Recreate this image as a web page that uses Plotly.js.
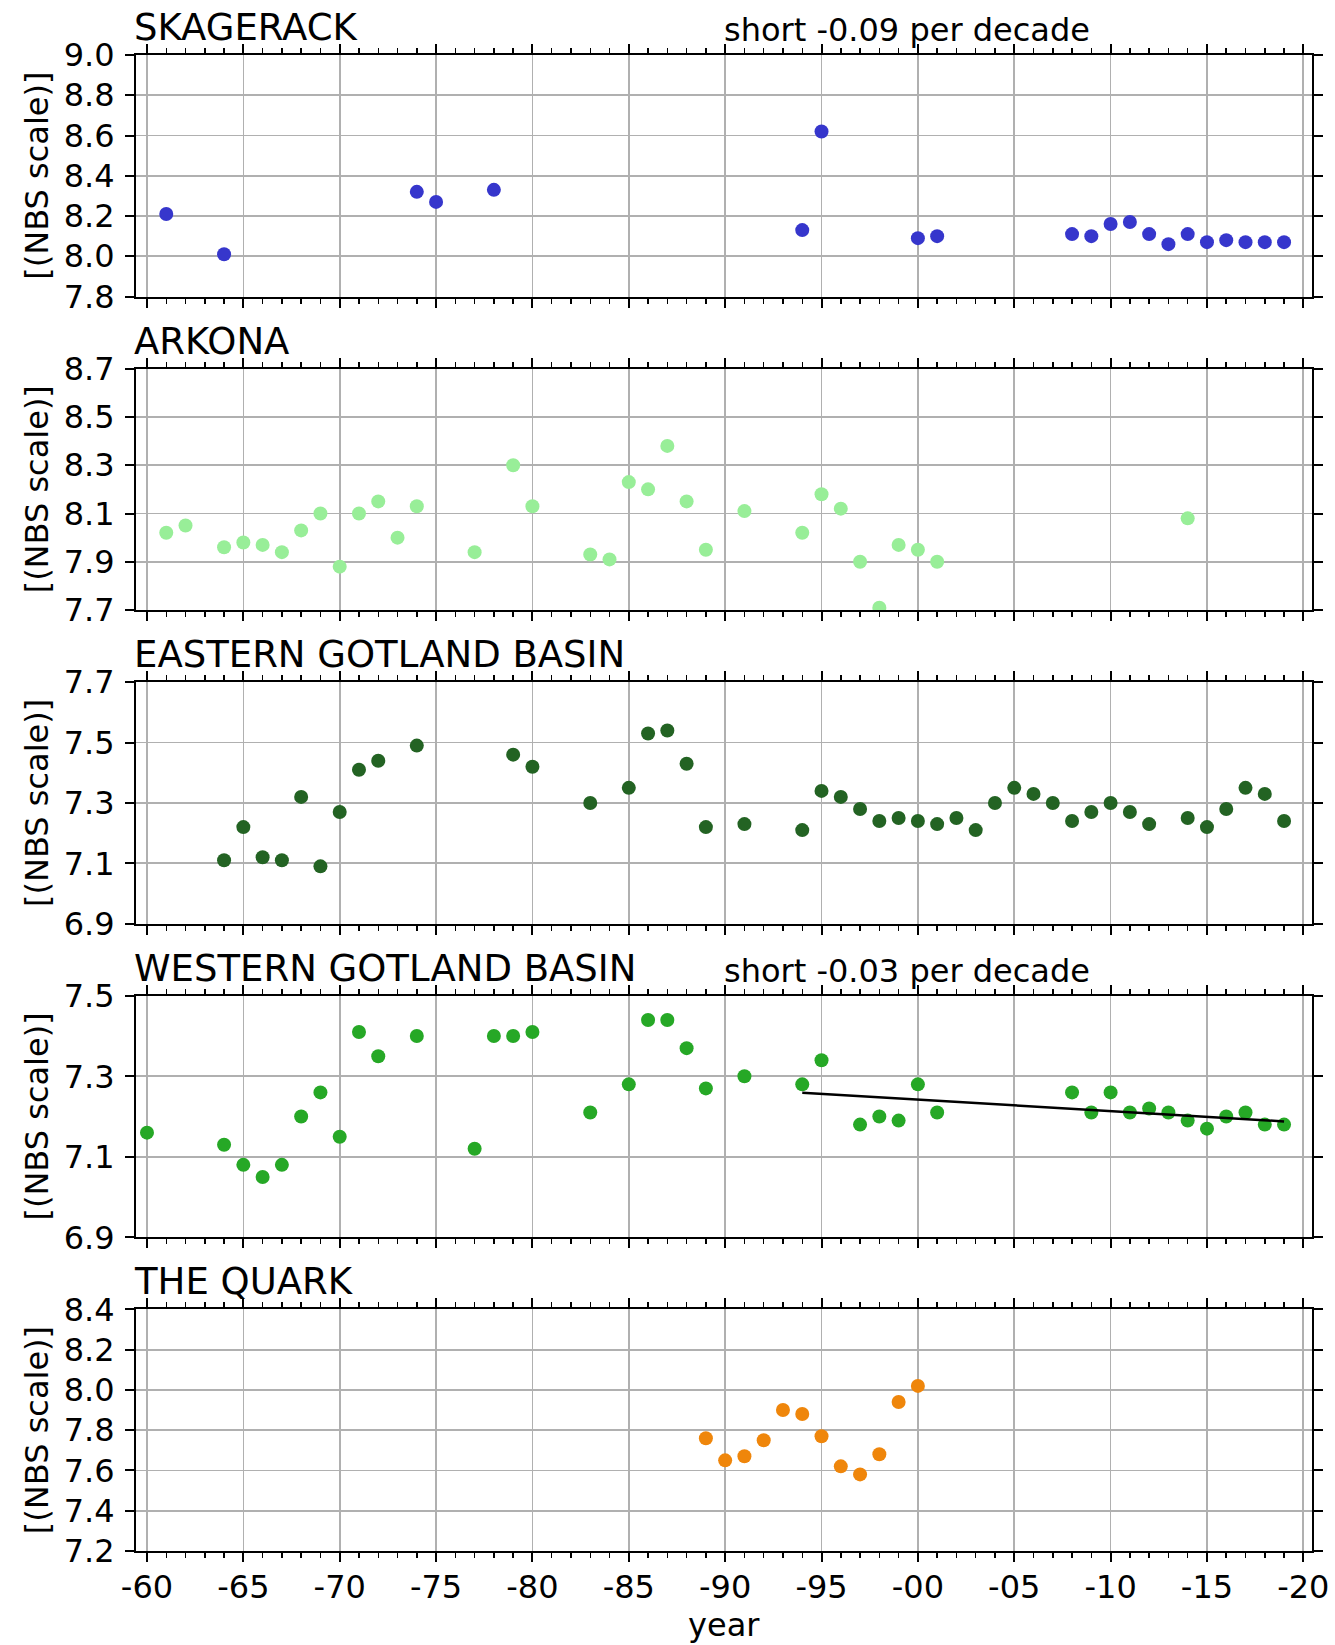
<!DOCTYPE html>
<html>
<head>
<meta charset="utf-8">
<script src="https://cdn.plot.ly/plotly-3.0.1.min.js"></script>
<style>html,body{margin:0;padding:0;background:#fff;}#chart{width:1335px;height:1645px;}</style>
</head>
<body>
<div id="chart"></div>
<script>
// ---- data ----
const panelTitles = ["SKAGERACK", "ARKONA", "EASTERN GOTLAND BASIN", "WESTERN GOTLAND BASIN", "THE QUARK"];
const trendTexts = ["short -0.09 per decade", "", "", "short -0.03 per decade", ""];

const skagYears = [1961,1964,1974,1975,1978,1994,1995,2000,2001,2008,2009,2010,2011,2012,2013,2014,2015,2016,2017,2018,2019];
const skagVals  = [8.21,8.01,8.32,8.27,8.33,8.13,8.62,8.09,8.10,8.11,8.10,8.16,8.17,8.11,8.06,8.11,8.07,8.08,8.07,8.07,8.07];

const arkYears = [1961,1962,1964,1965,1966,1967,1968,1969,1970,1971,1972,1973,1974,1977,1979,1980,1983,1984,1985,1986,1987,1988,1989,1991,1994,1995,1996,1997,1998,1999,2000,2001,2014];
const arkVals  = [8.02,8.05,7.96,7.98,7.97,7.94,8.03,8.10,7.88,8.10,8.15,8.00,8.13,7.94,8.30,8.13,7.93,7.91,8.23,8.20,8.38,8.15,7.95,8.11,8.02,8.18,8.12,7.90,7.71,7.97,7.95,7.90,8.08];

const egbYears = [1964,1965,1966,1967,1968,1969,1970,1971,1972,1974,1979,1980,1983,1985,1986,1987,1988,1989,1991,1994,1995,1996,1997,1998,1999,2000,2001,2002,2003,2004,2005,2006,2007,2008,2009,2010,2011,2012,2014,2015,2016,2017,2018,2019];
const egbVals  = [7.11,7.22,7.12,7.11,7.32,7.09,7.27,7.41,7.44,7.49,7.46,7.42,7.30,7.35,7.53,7.54,7.43,7.22,7.23,7.21,7.34,7.32,7.28,7.24,7.25,7.24,7.23,7.25,7.21,7.30,7.35,7.33,7.30,7.24,7.27,7.30,7.27,7.23,7.25,7.22,7.28,7.35,7.33,7.24];

const wgbYears = [1960,1964,1965,1966,1967,1968,1969,1970,1971,1972,1974,1977,1978,1979,1980,1983,1985,1986,1987,1988,1989,1991,1994,1995,1997,1998,1999,2000,2001,2008,2009,2010,2011,2012,2013,2014,2015,2016,2017,2018,2019];
const wgbVals  = [7.16,7.13,7.08,7.05,7.08,7.20,7.26,7.15,7.41,7.35,7.40,7.12,7.40,7.40,7.41,7.21,7.28,7.44,7.44,7.37,7.27,7.30,7.28,7.34,7.18,7.20,7.19,7.28,7.21,7.26,7.21,7.26,7.21,7.22,7.21,7.19,7.17,7.20,7.21,7.18,7.18];
const wgbTrendYears = [1994, 2019];
const wgbTrendVals  = [7.259, 7.188];

const quarkYears = [1989,1990,1991,1992,1993,1994,1995,1996,1997,1998,1999,2000];
const quarkVals  = [7.76,7.65,7.67,7.75,7.90,7.88,7.77,7.62,7.58,7.68,7.94,8.02];

const yRanges = [[7.8, 9.0], [7.7, 8.7], [6.9, 7.7], [6.9, 7.5], [7.2, 8.4]];
const xTickVals = [1960,1965,1970,1975,1980,1985,1990,1995,2000,2005,2010,2015,2020];
const xTickText = ["-60","-65","-70","-75","-80","-85","-90","-95","-00","-05","-10","-15","-20"];

// ---- layout geometry (pixels) ----
const W = 1335, H = 1645;
const mL = 136, mR = 23, mT = 55, mB = 94;
const plotH = H - mT - mB;
const panelH = 241.5, pitch = 313.6;
const FONT = "DejaVu Sans";
const colors = ["#3636cc", "#98ee98", "#236323", "#26a826", "#ef860b"];

const series = [
  [skagYears, skagVals], [arkYears, arkVals], [egbYears, egbVals], [wgbYears, wgbVals], [quarkYears, quarkVals]
];

const traces = [];
const layout = {
  width: W, height: H,
  margin: {l: mL, r: mR, t: mT, b: mB},
  paper_bgcolor: "#fff", plot_bgcolor: "#fff",
  showlegend: false,
  font: {family: FONT, size: 32, color: "#000"},
  annotations: []
};

for (let i = 0; i < 5; i++) {
  const n = i + 1;
  const xa = "x" + (n === 1 ? "" : n), ya = "y" + (n === 1 ? "" : n);
  const topPx = mT + pitch * i;
  const botPx = topPx + panelH;
  const d0 = (H - mB - botPx) / plotH, d1 = (H - mB - topPx) / plotH;
  traces.push({
    type: "scatter", mode: "markers", x: series[i][0], y: series[i][1],
    xaxis: xa, yaxis: ya,
    marker: {size: 14, color: colors[i], line: {width: 0}},
    hoverinfo: "x+y"
  });
  layout["xaxis" + (n === 1 ? "" : n)] = {
    domain: [0, 1], anchor: ya, range: [1959.43, 2020.45],
    matches: n === 1 ? undefined : "x",
    tickvals: xTickVals, ticktext: xTickText, showticklabels: n === 5,
    ticks: "outside", ticklen: 9, tickwidth: 2, tickcolor: "#000",
    ticklabelstandoff: -2,
    minor: {dtick: 1, tick0: 1960, ticks: "outside", ticklen: 5, tickwidth: 1.5, tickcolor: "#000", showgrid: false},
    showline: true, linecolor: "#000", linewidth: 2, mirror: "ticks",
    showgrid: true, gridcolor: "#b0b0b0", gridwidth: 1.7,
    zeroline: false, tickfont: {family: FONT, size: 32, color: "#000"}
  };
  layout["yaxis" + (n === 1 ? "" : n)] = {
    domain: [d0, d1], anchor: xa, range: yRanges[i],
    tick0: yRanges[i][0], dtick: 0.2, tickformat: ".1f",
    ticks: "outside", ticklen: 9, tickwidth: 2, tickcolor: "#000",
    ticklabelstandoff: 4,
    showline: true, linecolor: "#000", linewidth: 2, mirror: "ticks",
    showgrid: true, gridcolor: "#b0b0b0", gridwidth: 1.7,
    zeroline: false, tickfont: {family: FONT, size: 32, color: "#000"}
  };
  // panel title
  layout.annotations.push({
    text: panelTitles[i], xref: xa + " domain", yref: ya + " domain",
    x: 0, y: 1, xanchor: "left", yanchor: "bottom", xshift: -4, yshift: 4,
    showarrow: false, font: {family: FONT, size: 37, color: "#000"}
  });
  if (trendTexts[i]) {
    layout.annotations.push({
      text: trendTexts[i], xref: xa + " domain", yref: ya + " domain",
      x: 0.5, y: 1, xanchor: "left", yanchor: "bottom", xshift: -2, yshift: 4,
      showarrow: false, font: {family: FONT, size: 32, color: "#000"}
    });
  }
  // y-axis label
  layout.annotations.push({
    text: "[(NBS scale)]", xref: "paper", yref: ya + " domain",
    x: (37 - mL) / (W - mL - mR), y: 0.5, xanchor: "center", yanchor: "middle",
    textangle: -90, showarrow: false, font: {family: FONT, size: 32, color: "#000"}
  });
}

traces.push({
  type: "scatter", mode: "lines", x: wgbTrendYears, y: wgbTrendVals,
  xaxis: "x4", yaxis: "y4", line: {color: "#000", width: 2.5}, hoverinfo: "skip"
});

layout.annotations.push({
  text: "year", xref: "paper", yref: "paper", x: 0.5, y: 0,
  xanchor: "center", yanchor: "middle", yshift: -74, showarrow: false,
  font: {family: FONT, size: 32, color: "#000"}
});

Plotly.newPlot("chart", traces, layout, {staticPlot: true});
</script>
</body>
</html>
